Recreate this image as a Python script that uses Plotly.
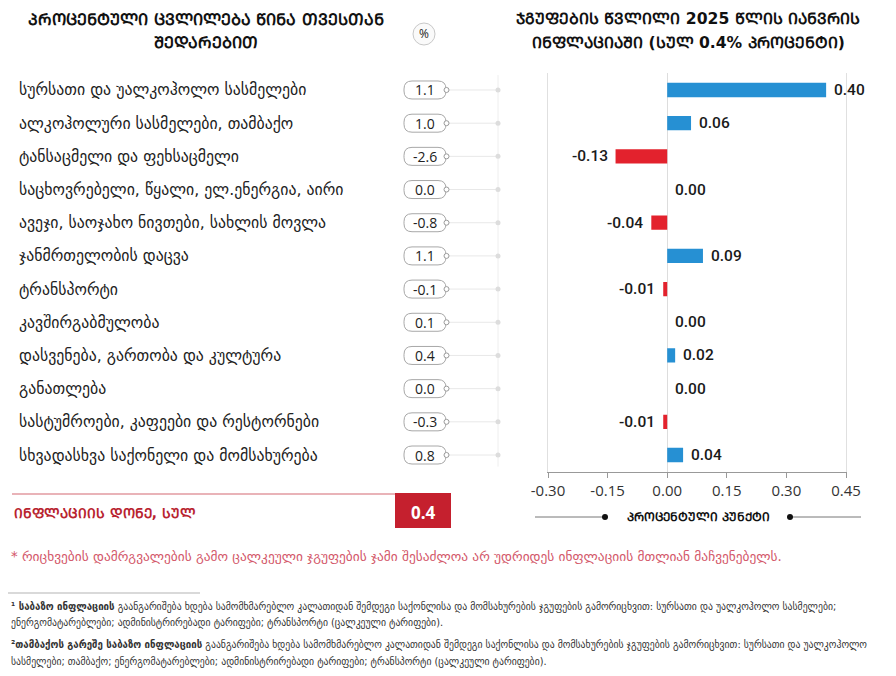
import plotly.graph_objects as go

W, H = 896, 676
OFF = 8  # page body margin

categories = [
    "სურსათი და უალკოჰოლო სასმელები",
    "ალკოჰოლური სასმელები, თამბაქო",
    "ტანსაცმელი და ფეხსაცმელი",
    "საცხოვრებელი, წყალი, ელ.ენერგია, აირი",
    "ავეჯი, საოჯახო ნივთები, სახლის მოვლა",
    "ჯანმრთელობის დაცვა",
    "ტრანსპორტი",
    "კავშირგაბმულობა",
    "დასვენება, გართობა და კულტურა",
    "განათლება",
    "სასტუმროები, კაფეები და რესტორნები",
    "სხვადასხვა საქონელი და მომსახურება",
]
pct_change = [1.1, 1.0, -2.6, 0.0, -0.8, 1.1, -0.1, 0.1, 0.4, 0.0, -0.3, 0.8]
contribution = [0.40, 0.06, -0.13, 0.00, -0.04, 0.09, -0.01, 0.00, 0.02, 0.00, -0.01, 0.04]
total_inflation = 0.4
x_ticks = [-0.30, -0.15, 0.00, 0.15, 0.30, 0.45]

title_left = ["პროცენტული ცვლილება წინა თვესთან", "შედარებით"]
title_right = ["ჯგუფების წვლილი 2025 წლის იანვრის", "ინფლაციაში (სულ 0.4% პროცენტი)"]
axis_title = "პროცენტული პუნქტი"
total_label = "ინფლაციის დონე, სულ"
note_red = "* რიცხვების დამრგვალების გამო ცალკეული ჯგუფების ჯამი შესაძლოა არ უდრიდეს ინფლაციის მთლიან მაჩვენებელს."
notes = [
    "<b>¹ საბაზო ინფლაციის</b> გაანგარიშება ხდება სამომხმარებლო კალათიდან შემდეგი საქონლისა და მომსახურების ჯგუფების გამორიცხვით: სურსათი და უალკოჰოლო სასმელები;",
    "ენერგომატარებლები; ადმინისტრირებადი ტარიფები; ტრანსპორტი (ცალკეული ტარიფები).",
    "<b>²თამბაქოს გარეშე საბაზო ინფლაციის</b> გაანგარიშება ხდება სამომხმარებლო კალათიდან შემდეგი საქონლისა და მომსახურების ჯგუფების გამორიცხვით: სურსათი და უალკოჰოლო",
    "სასმელები; თამბაქო; ენერგომატარებლები; ადმინისტრირებადი ტარიფები; ტრანსპორტი (ცალკეული ტარიფები).",
]


def mtav(s):
    out = []
    for c in s:
        o = ord(c)
        if 0x10D0 <= o <= 0x10FA:
            out.append(chr(o - 0x10D0 + 0x1C90))
        else:
            out.append(c)
    return "".join(out)


def px(x):
    return (x - OFF) / W


def py(y):
    return 1 - (y - OFF) / H


GEO = "DejaVu Sans"
NUM = "Open Sans, DejaVu Sans"
LBL = "Roboto, Open Sans, DejaVu Sans"
BLUE = "#2690d3"
RED = "#e3222d"

n = len(categories)
ys = list(range(n))

fig = go.Figure()

# contribution bars
fig.add_trace(go.Bar(
    x=contribution, y=ys, orientation="h",
    marker=dict(color=[BLUE if v >= 0 else RED for v in contribution], line_width=0),
    width=0.43, hoverinfo="skip", showlegend=False,
))

# left-panel connectors (x2 axis in screen pixels)
X2D = 0.58
x2range = [OFF, OFF + X2D * W]
cx, cy = [], []
for i in ys:
    cx += [448, 497, None]
    cy += [i, i, None]
fig.add_trace(go.Scatter(x=cx, y=cy, mode="lines", xaxis="x2", yaxis="y",
                         line=dict(color="#e8e8e8", width=1), hoverinfo="skip", showlegend=False))
fig.add_trace(go.Scatter(x=[498] * n, y=ys, mode="markers", xaxis="x2", yaxis="y",
                         marker=dict(color="#dddddd", size=5), hoverinfo="skip", showlegend=False))
fig.add_trace(go.Scatter(x=[446.5] * n, y=ys, mode="markers", xaxis="x2", yaxis="y",
                         marker=dict(color="#ffffff", size=5, line=dict(color="#9a9a9a", width=1)),
                         hoverinfo="skip", showlegend=False))

shapes = []
annotations = []

# vertical line left panel
shapes.append(dict(type="line", xref="paper", yref="y", x0=px(498), x1=px(498), y0=-0.45, y1=11.35,
                   line=dict(color="#eeeeee", width=1), layer="below"))

# pills
w, h, r = 42, 18, 8
a, b = w / 2, h / 2
pill = (f"M {-a + r},{-b} L {a - r},{-b} Q {a},{-b} {a},{-b + r} L {a},{b - r} Q {a},{b} {a - r},{b} "
        f"L {-a + r},{b} Q {-a},{b} {-a},{b - r} L {-a},{-b + r} Q {-a},{-b} {-a + r},{-b} Z")
for i, v in enumerate(pct_change):
    shapes.append(dict(type="path", xref="paper", yref="y", xsizemode="pixel", ysizemode="pixel",
                       xanchor=px(425), yanchor=i, path=pill,
                       line=dict(color="#a8a8a8", width=1), fillcolor="white", layer="below"))
    annotations.append(dict(x=px(425), y=i, xref="paper", yref="y", text=f"{v:.1f}", showarrow=False,
                            font=dict(family=NUM, size=14, color="#222"), xanchor="center", yanchor="middle"))
    annotations.append(dict(x=px(17), y=i, xref="paper", yref="y", text=categories[i], showarrow=False,
                            font=dict(family=GEO, size=15.8, color="#222"), xanchor="left", yanchor="middle"))

# bar value labels
for i, v in enumerate(contribution):
    annotations.append(dict(x=v, y=i, xref="x", yref="y", text=f"{v:.2f}", showarrow=False,
                            xanchor="left" if v >= 0 else "right", xshift=6 if v >= 0 else -6,
                            font=dict(family=LBL, size=15.5, color="#1a1a1a", weight=500), yanchor="middle"))

# titles
for k, t in enumerate(title_left):
    annotations.append(dict(x=px(206), y=py(19 + 24 * k), xref="paper", yref="paper", text=f"<b>{mtav(t)}</b>",
                            showarrow=False, font=dict(family=GEO, size=16, color="#111"),
                            xanchor="center", yanchor="middle"))
for k, t in enumerate(title_right):
    annotations.append(dict(x=px(688), y=py(19 + 24 * k), xref="paper", yref="paper", text=f"<b>{mtav(t)}</b>",
                            showarrow=False, font=dict(family=GEO, size=15.6, color="#111"),
                            xanchor="center", yanchor="middle"))
# % badge
shapes.append(dict(type="circle", xref="paper", yref="paper", x0=px(413), x1=px(435), y0=py(45), y1=py(23),
                   line=dict(color="#c8c8c8", width=1), fillcolor="#fafafa"))
annotations.append(dict(x=px(424), y=py(34), xref="paper", yref="paper", text="%", showarrow=False,
                        font=dict(family=NUM, size=12, color="#222"), xanchor="center", yanchor="middle"))

# total row
shapes.append(dict(type="line", xref="paper", yref="paper", x0=px(12), x1=px(395), y0=py(494), y1=py(494),
                   line=dict(color="#e29aa0", width=1.5)))
shapes.append(dict(type="rect", xref="paper", yref="paper", x0=px(395), x1=px(451), y0=py(528), y1=py(493),
                   line=dict(width=0), fillcolor="#c5202e"))
annotations.append(dict(x=px(12), y=py(513), xref="paper", yref="paper", text=f"<b>{mtav(total_label)}</b>",
                        showarrow=False, font=dict(family=GEO, size=13.6, color="#b8232f"),
                        xanchor="left", yanchor="middle"))
annotations.append(dict(x=px(423), y=py(512), xref="paper", yref="paper", text=f"<b>{total_inflation:.1f}</b>",
                        showarrow=False, font=dict(family=NUM, size=17, color="white"),
                        xanchor="center", yanchor="middle"))

# axis title with lines and dots
shapes.append(dict(type="line", xref="paper", yref="paper", x0=px(535), x1=px(605), y0=py(517), y1=py(517),
                   line=dict(color="#777", width=1)))
shapes.append(dict(type="line", xref="paper", yref="paper", x0=px(790), x1=px(861), y0=py(517), y1=py(517),
                   line=dict(color="#777", width=1)))
for xc in (605, 790):
    shapes.append(dict(type="circle", xref="paper", yref="paper", x0=px(xc - 3), x1=px(xc + 3),
                       y0=py(520), y1=py(514), line=dict(width=0), fillcolor="#111"))
annotations.append(dict(x=px(698), y=py(517), xref="paper", yref="paper", text=f"<b>{mtav(axis_title)}</b>",
                        showarrow=False, font=dict(family=GEO, size=12, color="#111"),
                        xanchor="center", yanchor="middle"))

# red note
annotations.append(dict(x=px(9), y=py(556), xref="paper", yref="paper", text=note_red, showarrow=False,
                        font=dict(family=GEO, size=13.4, color="#d3586a"), xanchor="left", yanchor="middle"))
# footnotes
shapes.append(dict(type="line", xref="paper", yref="paper", x0=px(8), x1=px(200), y0=py(593), y1=py(593),
                   line=dict(color="#cccccc", width=1.5)))
for k, (t, yy) in enumerate(zip(notes, [606, 622, 644, 661])):
    annotations.append(dict(x=px(9), y=py(yy), xref="paper", yref="paper", text=t, showarrow=False,
                            font=dict(family="DejaVu Sans Condensed, DejaVu Sans", size=10.8, color="#333"),
                            xanchor="left", yanchor="middle"))

ytop, ybot = 73.4, 471.6
fig.update_layout(
    width=W, height=H, margin=dict(l=0, r=0, t=0, b=0, autoexpand=False),
    paper_bgcolor="white", plot_bgcolor="white",
    xaxis=dict(domain=[px(548), px(846)], range=[-0.30, 0.45], tickvals=x_ticks,
               ticktext=[f"{t:.2f}" for t in x_ticks], showgrid=False,
               zeroline=True, zerolinecolor="#dddddd", zerolinewidth=1,
               showline=True, linecolor="#999", linewidth=1, ticks="outside", ticklen=5,
               tickcolor="#999", tickfont=dict(family=NUM, size=15, color="#333"), anchor="y",
               automargin=False, fixedrange=True),
    xaxis2=dict(domain=[0, X2D], range=x2range, visible=False, anchor="y", automargin=False,
                fixedrange=True),
    yaxis=dict(domain=[py(ybot), py(ytop)], range=[11.5, -0.5], showticklabels=False, showgrid=False,
               zeroline=False, showline=True, linecolor="#e0e0e0", mirror=True, ticks="", anchor="x",
               automargin=False, fixedrange=True),
    shapes=shapes, annotations=annotations, bargap=0.5,
)

fig.write_html("out.html")
